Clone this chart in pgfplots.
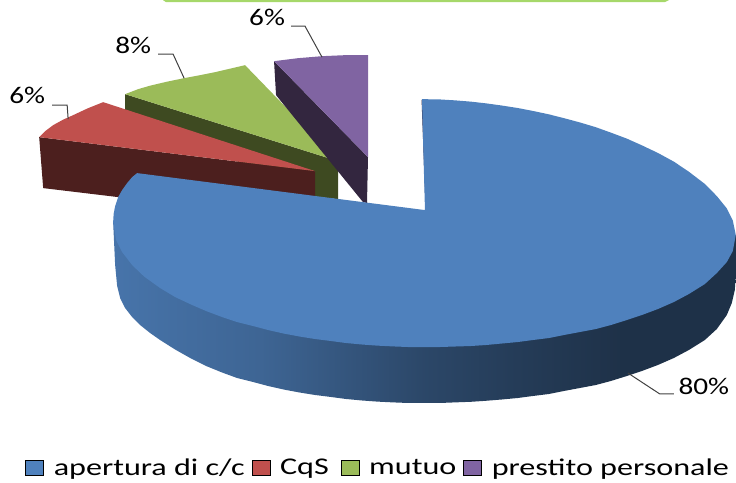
\documentclass[border=0pt]{standalone}
\usepackage{pgfplots}
\usepackage{fontspec}
\pgfplotsset{compat=1.18}
\setmainfont[FakeStretch=1.22]{Carlito}
\newfontfamily\legfont[FakeStretch=1.34]{Carlito}
\definecolor{cblue}{HTML}{4F81BD}
\definecolor{cred}{HTML}{C0504D}
\definecolor{cgreen}{HTML}{9BBB59}
\definecolor{cpurple}{HTML}{8064A2}
\definecolor{dred}{HTML}{4C1F1E}
\definecolor{dgreen}{HTML}{3E4A21}
\definecolor{dpurple}{HTML}{33263F}
\definecolor{topbar}{HTML}{A6D86A}
\pgfdeclarehorizontalshading{bluewall}{100bp}{
  color(0bp)=(cblue!90!black);
  color(25bp)=(cblue!90!black);
  color(37bp)=(cblue!78!black);
  color(50bp)=(cblue!55!black);
  color(57bp)=(cblue!47!black);
  color(66bp)=(cblue!38!black);
  color(100bp)=(cblue!38!black)}

\begin{document}
\begin{tikzpicture}
\begin{axis}[
    scale only axis,
    width=736pt,
    height=482pt,
    xmin=0, xmax=736,
    ymin=0, ymax=482,
    y dir=reverse,
    hide axis,
    clip=false,
    legend columns=-1,
    legend style={at={(axis cs:25,468)}, anchor=west, draw=none, fill=none, inner sep=0pt,
      font=\legfont\fontsize{24}{24}\selectfont,
      /tikz/every even column/.style={column sep=5pt},
      /tikz/every odd column/.style={column sep=8pt}},
    legend image code/.code={\fill[#1] (0pt,-7.5pt) rectangle (18pt,7.5pt);},
]
% page corners, keeps the size of the picture
\addplot[draw=white, forget plot] coordinates {(0,0) (736,0) (736,482) (0,482) (0,0)};
% bar of the box above the chart
\addplot[fill=topbar, draw=none, forget plot] coordinates {(163,0) (166,2) (665,2) (669,0)} -- cycle;

% green slice
\addplot[fill=dgreen, draw=none, forget plot] coordinates {(125,94) (338,161) (338,199) (315,197) (125,110)} -- cycle;
\addplot[fill=cgreen, draw=none, forget plot] coordinates {(125,94) (138,89) (150,85.5) (167,81.5) (184,78) (200,75) (215,72) (230,68.5) (245,65) (338,161)} -- cycle;
% red slice
\addplot[fill=dred, draw=none, forget plot] coordinates {(39,137) (315,171) (315,197) (137,190) (118,197) (43,188)} -- cycle;
\addplot[fill=cred, draw=none, forget plot] coordinates {(39,137) (45,131) (53,125) (63,119.5) (73,115) (88,108) (103,102) (315,171)} -- cycle;
% purple slice
\addplot[fill=dpurple, draw=none, forget plot] coordinates {(274,61) (368,157) (367,203) (363,202) (276,95)} -- cycle;
\addplot[fill=cpurple, draw=none, forget plot] coordinates {(274,61) (298,58) (322,56) (345,55) (368,55) (368,157)} -- cycle;

% blue slice, wall then top
\addplot[shading=bluewall, draw=none, forget plot] coordinates {
  (113,222) (115,265) (117,286) (120,298) (125,308) (132,317) (140,325) (150,333) (160,340)
  (175,349.5) (191,358.5) (206,366) (222,372.5) (237,378) (253,382) (268,386) (284,389.6) (300,392.6)
  (315,395) (331,397) (346,399) (362,400.5) (377,401.6) (393,402.4) (408,403) (424,403)
  (440,403) (455,402.4) (471,401.8) (486,400.8) (502,399.5) (518,398) (533,396) (549,394)
  (564,391) (580,388) (596,385) (611,381) (627,376) (642,371) (658,365) (674,358)
  (689,350) (705,340) (717,329) (727,315) (732,303) (735,290) (736,275) (736,235) (424,250)} -- cycle;
\addplot[draw=dpurple, line width=0.8pt, forget plot] coordinates {(422,100) (426,209)};
\addplot[fill=cblue, draw=none, forget plot] coordinates {
  (137,173) (425,210) (422,99) (440,99.3) (455,100.2) (471,101.5) (486,103.2) (502,105.4)
  (518,107.9) (533,110.8) (549,114.2) (564,118) (580,122.3) (596,127.1) (611,132.5)
  (627,138.5) (642,145.2) (658,152.8) (674,161.5) (689,171.6) (705,183.8) (717,196)
  (727,208.3) (733,220.4) (736,235) (733,251) (727,262) (717,273) (705,284) (689,294)
  (674,302) (658,309) (642,315) (627,320) (611,325) (596,329) (580,332) (564,335)
  (549,338) (533,340) (518,342) (502,343.5) (486,345) (471,346) (455,346.5) (440,347)
  (424,347) (408,347) (393,346.4) (377,345.6) (362,344.5) (346,343) (331,341) (315,339)
  (300,336.6) (284,333.6) (268,330) (253,326) (237,322) (222,317) (206,311) (191,304.5)
  (175,297) (160,288) (144,276.5) (132,265) (122,252) (116,240) (113,222) (113.5,214)
  (115,206) (118,197) (122,190) (127,183) (132,177)} -- cycle;

% leader lines
\addplot[black!75, line width=1pt, forget plot] coordinates {(291,26) (305,26) (322,57)};
\addplot[black!75, line width=1pt, forget plot] coordinates {(158,54) (173,54) (184,78)};
\addplot[black!75, line width=1pt, forget plot] coordinates {(52,105) (67,105) (68,119)};
\addplot[black!75, line width=1pt, forget plot] coordinates {(628,373) (660,394) (674,394)};

\node[font=\fontsize{24}{24}\selectfont] at (axis cs:267,17) {6\%};
\node[font=\fontsize{24}{24}\selectfont] at (axis cs:133,45) {8\%};
\node[font=\fontsize{24}{24}\selectfont] at (axis cs:27,95) {6\%};
\node[font=\fontsize{24}{24}\selectfont] at (axis cs:704,386) {80\%};

\addlegendimage{fill=cblue}
\addlegendentry{apertura di c/c}
\addlegendimage{fill=cred}
\addlegendentry{CqS\hspace*{5pt}}
\addlegendimage{fill=cgreen}
\addlegendentry{mutuo}
\addlegendimage{fill=cpurple}
\addlegendentry{prestito personale}
\end{axis}
\end{tikzpicture}
\end{document}
